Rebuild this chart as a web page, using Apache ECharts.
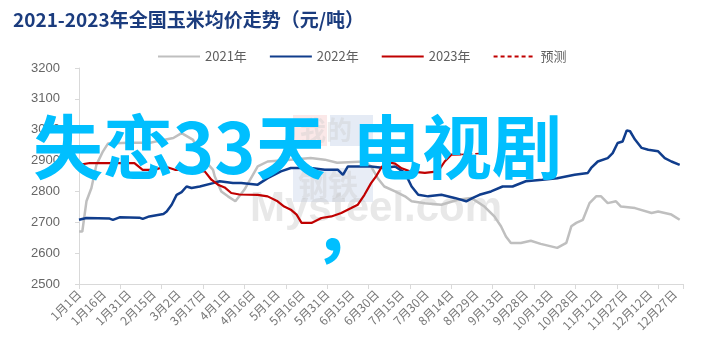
<!DOCTYPE html>
<html>
<head>
<meta charset="utf-8">
<script src="https://cdn.jsdelivr.net/npm/echarts@6/dist/echarts.min.js"></script>
<style>
html,body{margin:0;padding:0;background:#fff;}
#c{width:707px;height:357px;}
</style>
</head>
<body>
<div id="c"></div>
<script>
// ---- data ----
var xLabels = ['1月1日','1月16日','1月31日','2月15日','3月2日','3月17日','4月1日','4月16日','5月1日','5月16日','5月31日','6月15日','6月30日','7月15日','7月30日','8月14日','8月29日','9月13日','9月28日','10月13日','10月28日','11月12日','11月27日','12月12日','12月27日'];
var yTicks = [2500,2600,2700,2800,2900,3000,3100,3200];
var seriesNames = ['2021年','2022年','2023年','预测'];

var d2021 = [0,2,4.5,7.5,10.5,14.5,17.5,30,43,51,57,62,69,73,81,82,86,90,94.5,100,108,114,128,140,148.5,156,172.5,176.5,180.5,184.5,191,197,201,209,219,229,237,245,251,255,258,261,267,273,279,289,294.5,297.5,300.5,304.5,308.5,312.5,315.5,319.5,324.5,327.5,336,346,350,358,363];
var v2021 = [2670,2670,2768,2811,2886,2930,2955,2958,2958,2967,2973,2989,2967,2919,2870,2849,2800,2784,2768,2806,2881,2897,2903,2908,2903,2893,2897,2881,2843,2816,2800,2784,2768,2762,2757,2773,2779,2751,2719,2687,2654,2633,2633,2640,2630,2617,2633,2687,2698,2708,2762,2784,2784,2762,2768,2751,2746,2730,2735,2725,2708];

var d2022 = [0,4.5,18.5,20.5,24.5,36.5,38.5,42.5,51,53,56,59,62,65,68,73,81,85,93,98,108,114,122,128,140,148.5,156.5,159.5,162.5,176.5,184.5,191,197,201,205,211,219,227,234,238,242,249,256,262,270,280,289,299.5,307.5,309.5,313.5,319.5,322.5,325.5,328.5,331,333,336,340,344,350,354,358,363];
var v2022 = [2708,2714,2712,2708,2716,2715,2711,2719,2727,2735,2757,2789,2798,2816,2811,2816,2827,2833,2827,2827,2822,2843,2865,2876,2876,2870,2870,2854,2881,2881,2876,2881,2860,2816,2789,2784,2789,2779,2768,2779,2789,2800,2816,2816,2833,2838,2843,2854,2860,2876,2897,2908,2924,2957,2962,2998,2995,2968,2941,2935,2930,2908,2897,2886];

var d2023 = [0,6.5,28.5,33.5,38.5,45.5,52,58,67,76,80,84,88,92,97,108,114,120,124,128,131.5,134.5,140.5,146.5,152.5,158.5,164.5,168.5,172.5,176.5,179.5,183,186.5,191,195,200,209,217,221,225,231];
var v2023 = [2886,2892,2892,2892,2870,2870,2881,2870,2870,2865,2838,2822,2813,2795,2790,2789,2784,2768,2751,2741,2725,2698,2698,2714,2719,2730,2746,2757,2789,2827,2849,2880,2895,2890,2875,2865,2860,2865,2897,2919,2920];

var dForecast = [231,245];
var vForecast = [2920,2924];

function zip(d, v){ return d.map(function(x,i){ return [x, v[i]]; }); }

var chart = echarts.init(document.getElementById('c'), null, {renderer:'canvas'});
var fontCJK = '"Noto Sans CJK SC","Noto Sans",sans-serif';

var option = {
  animation:false,
  backgroundColor:'#fff',
  title:{
    text:'2021-2023年全国玉米均价走势（元/吨）',
    left:8, top:5,
    textStyle:{color:'#1b3c7e', fontSize:19, fontWeight:'bold', fontFamily:fontCJK}
  },
  legend:{
    left:152, top:45,
    itemWidth:42, itemHeight:12, itemGap:22,
    itemStyle:{opacity:0},
    textStyle:{color:'#5f5f5f', fontSize:13, fontFamily:fontCJK},
    data:seriesNames
  },
  grid:{left:79, right:24, top:68, bottom:73, containLabel:false},
  xAxis:[{
    type:'value', position:'bottom', min:0, max:365, interval:15,
    axisLine:{show:true, lineStyle:{color:'#d9d9d9', width:1}},
    axisTick:{show:false},
    splitLine:{show:false},
    axisLabel:{
      rotate:45, color:'#777', fontSize:12, margin:8, fontFamily:fontCJK,
      showMaxLabel:false,
      formatter:function(v){ var i = v/15; return (Math.abs(i-Math.round(i))<1e-6 && xLabels[Math.round(i)]) ? xLabels[Math.round(i)] : ''; }
    }
  },{
    type:'value', position:'bottom', min:0, max:365, interval:25,
    axisLine:{show:false},
    axisTick:{show:true, length:5, lineStyle:{color:'#d9d9d9'}},
    axisLabel:{show:false},
    splitLine:{show:false}
  }],
  yAxis:{
    type:'value', min:yTicks[0], max:yTicks[yTicks.length-1], interval:100,
    axisLine:{show:true, lineStyle:{color:'#d9d9d9'}},
    axisTick:{show:true, length:4, lineStyle:{color:'#d9d9d9'}},
    splitLine:{show:false},
    axisLabel:{color:'#666', fontSize:13, margin:19, fontFamily:'"Liberation Sans",Arial,sans-serif', formatter:function(v){ return String(v); }}
  },
  graphic:[
    {type:'rect', z:0, silent:true, shape:{x:293,y:115,width:34,height:31}, style:{fill:'rgba(235,150,150,0.22)'}},
    {type:'rect', z:0, silent:true, shape:{x:330,y:115,width:43,height:31}, style:{fill:'rgba(150,175,215,0.25)'}},
    {type:'rect', z:0, silent:true, shape:{x:293,y:168,width:80,height:34}, style:{fill:'rgba(150,175,215,0.22)'}},
    {type:'text', z:0, silent:true, left:300, top:117, style:{text:'我的', font:'bold 26px "Noto Sans CJK SC"', fill:'rgba(200,200,200,0.35)'}},
    {type:'text', z:0, silent:true, left:298, top:170, style:{text:'钢铁', font:'bold 30px "Noto Sans CJK SC"', fill:'rgba(200,200,200,0.35)'}},
    {type:'text', z:0, silent:true, left:250, top:188, style:{text:'Mysteel.com', font:'bold 42px "Liberation Sans",Arial', fill:'rgba(190,190,190,0.35)'}},
    {type:'text', z:100, silent:true, left:33, top:112, style:{text:'失恋33天', font:'bold 70px "Noto Sans CJK SC"', fill:'#00bfff'}},
    {type:'text', z:100, silent:true, left:352, top:112, style:{text:'电视剧', font:'bold 70px "Noto Sans CJK SC"', fill:'#00bfff'}},
    {type:'text', z:100, silent:true, left:313, top:193, style:{text:'，', font:'bold 70px "Noto Sans CJK SC"', fill:'#00bfff'}}
  ],
  series:[
    {name:seriesNames[0], type:'line', xAxisIndex:0, data:zip(d2021,v2021), symbol:'none', lineStyle:{color:'#bfbfbf', width:2.5}, itemStyle:{color:'#bfbfbf'}, z:2},
    {name:seriesNames[1], type:'line', xAxisIndex:0, data:zip(d2022,v2022), symbol:'none', lineStyle:{color:'#103d8c', width:2.5}, itemStyle:{color:'#103d8c'}, z:3},
    {name:seriesNames[2], type:'line', xAxisIndex:0, data:zip(d2023,v2023), symbol:'none', lineStyle:{color:'#c00000', width:2.2}, itemStyle:{color:'#c00000'}, z:4},
    {name:seriesNames[3], type:'line', xAxisIndex:0, data:zip(dForecast,vForecast), symbol:'none', lineStyle:{color:'#c00000', width:1.5, type:[4,3]}, itemStyle:{color:'#c00000'}, z:4}
  ]
};
chart.setOption(option);
</script>
</body>
</html>
